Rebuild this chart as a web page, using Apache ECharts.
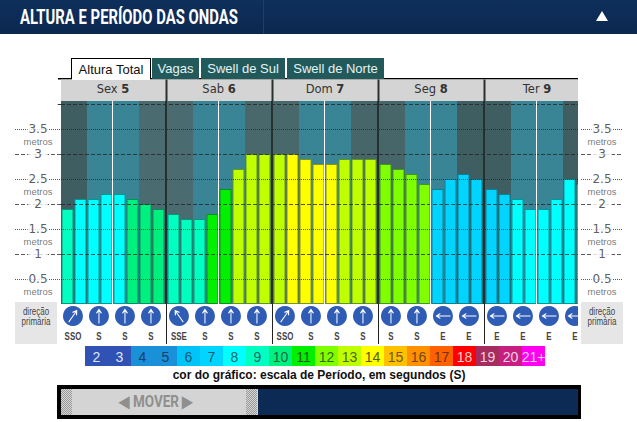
<!DOCTYPE html>
<html><head><meta charset="utf-8">
<style>html,body{margin:0;padding:0;background:#fff}#c{width:637px;height:422px}</style>
<script src="https://cdn.jsdelivr.net/npm/echarts@6/dist/echarts.min.js"></script>
</head><body><div id="c"></div>
<script>
const title = 'ALTURA E PERÍODO DAS ONDAS';
const tabs = ['Altura Total', 'Vagas', 'Swell de Sul', 'Swell de Norte'];
const dayNames = ['Sex', 'Sab', 'Dom', 'Seg', 'Ter'];
const dayNums = ['5', '6', '7', '8', '9'];
const heights = [
  1.9, 2.1, 2.1, 2.2, 2.2, 2.1, 2.0, 1.9,
  1.8, 1.7, 1.7, 1.8, 2.3, 2.7, 3.0, 3.0,
  3.0, 3.0, 2.9, 2.8, 2.8, 2.9, 2.9, 2.9,
  2.8, 2.7, 2.6, 2.4, 2.3, 2.5, 2.6, 2.5,
  2.3, 2.2, 2.1, 1.9, 1.9, 2.1, 2.5, 2.4
];
const periods = [
  9, 8, 8, 8, 8, 10, 10, 10,
  9, 9, 9, 11, 11, 13, 13, 13,
  13, 14, 14, 14, 14, 13, 13, 13,
  12, 12, 12, 12, 7, 7, 7, 7,
  7, 7, 8, 8, 8, 8, 8, 8
];
const directions = [
  'SSO', 'S', 'S', 'S',
  'SSE', 'S', 'S', 'S',
  'SSO', 'S', 'S', 'S',
  'S', 'S', 'E', 'E',
  'E', 'E', 'E', 'E'
];
const directionAngles = { SSO: -35, SSE: 35, S: 0, E: 90 };
const wholeTicks = [1, 2, 3];
const halfTicks = [0.5, 1.5, 2.5, 3.5];
const scaleLabels = ['2','3','4','5','6','7','8','9','10','11','12','13','14','15','16','17','18','19','20','21+'];
const scaleColors = ['#2f52b4','#2f52b4','#1a90d8','#1a90d8','#00c4f8','#00d4ff','#00ffff','#00ffc0','#00f080','#00f000','#80ff00','#c0ff00','#ffff00','#ffc000','#ff9000','#ff6000','#ff0000','#a52c5e','#c61f80','#ff00f0'];
const scaleText = ['#dfe6f5','#dfe6f5','#17406a','#17406a','#0f5a70','#0f5a70','#136a6a','#136a6a','#146a40','#145a14','#3a6a10','#4f6a10','#5a5a10','#70581a','#70481a','#703214','#ffd0d0','#f0d0dc','#f5d0e4','#ffd0ff'];
const caption = 'cor do gráfico: escala de Período, em segundos (S)';
const sideText = 'direção\nprimária';

const DAY = 106 / 13, MAXY = 4.06, MAXX = 517 / 13;
const TOP = 101, PH = 203;
const barPts = heights.map((h, i) => {
  const d = Math.floor(i / 8), s = i % 8;
  const c = scaleColors[scaleLabels.indexOf(String(periods[i]))];
  return { value: [d * DAY + s + 0.5, h], itemStyle: { color: c, borderColor: echarts.color.lerp(0.55, [c, '#123c40']) } };
});
const dayIdx = [0, 1, 2, 3, 4];
const nightColor = ['#3f5e62', '#4a6b70', '#48686c', '#46666a', '#3f5e62'];
const bands = [];
dayIdx.forEach(d => {
  bands.push([{ xAxis: d * DAY, itemStyle: { color: nightColor[d] } }, { xAxis: d * DAY + 2 }]);
  bands.push([{ xAxis: d * DAY + 2, itemStyle: { color: '#3a8595' } }, { xAxis: d * DAY + 6 }]);
  bands.push([{ xAxis: d * DAY + 6, itemStyle: { color: nightColor[Math.min(d + 1, 4)] } }, { xAxis: d * DAY + 8 + 2 / 13 }]);
});
const marks = (vals, type) => ({ silent: true, symbol: 'none', label: { show: false },
  lineStyle: { color: '#222', width: 1, type, opacity: 0.75 }, data: vals.map(v => ({ yAxis: v })) });
const sideLabels = (xi, yi) => [wholeTicks, halfTicks].map((list, k) => ({
  type: 'scatter', xAxisIndex: xi, yAxisIndex: yi, symbolSize: 0, silent: true, z: 6,
  data: list.map(v => [0.5, v]),
  markLine: marks(list, k ? 'dotted' : 'dashed'),
  label: { show: true, position: 'inside', formatter: p => String(p.value[1]),
    fontFamily: 'DejaVu Sans', fontSize: 12, color: '#333', backgroundColor: '#fff', padding: k ? [0, 1] : [0, 6] }
}));
const metros = (xi, yi) => ({
  type: 'scatter', xAxisIndex: xi, yAxisIndex: yi, symbolSize: 0, silent: true, z: 6,
  data: halfTicks.map(v => [0.5, v]),
  label: { show: true, position: 'inside', offset: [0, 12], formatter: 'metros',
    fontFamily: 'Liberation Sans', fontSize: 9.5, color: '#555' }
});

const iconPts = directions.map((l, i) => {
  const d = Math.floor(i / 4), s = (i % 4) * 2;
  return { x: d * DAY + s + 0.92, l };
});
const sepLines = [1, 2, 3, 4].map(d => ({ xAxis: d * DAY - 1 / 13 }));

const g = [];
const rect = (x, y, w, h, fill, z) => ({ type: 'rect', shape: { x, y, width: w, height: h }, style: { fill }, z: z || 0, silent: true });
const text = (x, y, t, font, fill, align, z) => ({ type: 'text', x, y, silent: true, z: z || 20,
  style: { text: t, font, fill, align: align || 'center', verticalAlign: 'middle' } });
const meter = document.createElement('canvas').getContext('2d');
const fitted = (x, y, t, font, fill, width, align, z) => {
  meter.font = font;
  return Object.assign(text(x, y, t, font, fill, align, z), { scaleX: width / meter.measureText(t).width });
};

// page header
g.push(rect(0, 0, 637, 34, { type: 'linear', x: 0, y: 0, x2: 0, y2: 1, colorStops: [{ offset: 0, color: '#0f2f5c' }, { offset: 1, color: '#0a2850' }] }));
g.push(rect(263, 0, 1, 34, '#1f3f6a', 1));
g.push(fitted(20, 17, title, 'bold 20px Roboto', '#fff', 218, 'left'));
g.push({ type: 'polygon', shape: { points: [[602, 11], [608, 21], [596, 21]] }, style: { fill: '#fff' }, z: 2, silent: true });

// tabs
g.push(rect(58, 78, 520, 1.5, '#000', 1));
g.push(rect(71, 58, 80, 21, '#000', 2));
g.push(rect(72, 59, 78, 21, '#fff', 3));
const tabX = [[152, 47], [201, 84], [287, 97]];
tabX.forEach((t, i) => {
  g.push(rect(t[0], 58, t[1], 21, '#225a5c', 3));
  g.push(text(t[0] + t[1] / 2, 68, tabs[i + 1], '13px "Liberation Sans"', '#e6f2f2'));
});
g.push(text(111, 69, tabs[0], '13px "Liberation Sans"', '#111'));

// day header
g.push(rect(61, 79.5, 517, 21.5, '#d4d4d4', 1));
dayIdx.forEach(d => {
  const cx = 113 + d * 106;
  g.push({ type: 'text', x: cx, y: 89, silent: true, z: 20, style: {
    text: '{a|' + dayNames[d] + ' }{b|' + dayNums[d] + '}', align: 'center', verticalAlign: 'middle',
    rich: { a: { font: '11.5px "DejaVu Sans"', fill: '#333' }, b: { font: 'bold 11.5px "DejaVu Sans"', fill: '#333' } } } });
  if (d) g.push(rect(61 + d * 106 - 1.5, 79.5, 2, 21.5, '#2a3030', 2));
});

// white margin right of the plot: the last bar and icon are cut at the plot edge
g.push(rect(578, 101, 45, 203, '#fff', 4));
g.push(rect(578, 304, 3, 44, '#fff', 30));

// direction names under the icons
iconPts.forEach(p => {
  meter.font = 'bold 11px "Liberation Sans"';
  g.push(Object.assign(text(61 + p.x * 13, 336, p.l, meter.font, '#444', 'center', 25), { scaleX: 0.72 }));
});

// primary direction boxes
[[15, 36], [581, 602]].forEach(b => {
  g.push(rect(b[0], 302, 42, 42, '#e6e6e6', 31));
  g.push({ type: 'text', x: b[1], y: 317, scaleX: 0.76, silent: true, z: 32, style: { text: sideText, font: '10.5px "Liberation Sans"', fill: '#444', align: 'center', verticalAlign: 'middle', lineHeight: 10 } });
});

// period colour scale
scaleLabels.forEach((l, i) => {
  g.push(rect(85 + i * 23, 346, 23, 20, scaleColors[i], 1));
  g.push(text(96.5 + i * 23, 356.5, l, '14px "Liberation Sans"', scaleText[i]));
});
g.push(text(319, 375, caption, 'bold 12px "Liberation Sans"', '#111'));

// slider
g.push(rect(57, 385, 524, 34, '#000', 1));
g.push(rect(61, 389, 517, 26, '#0c2b54', 2));
g.push(rect(61, 389, 197, 26, '#d4d4d4', 3));
[61, 246].forEach(x0 => {
  for (let x = 0; x < 11; x++) for (let y = 0; y < 26; y++) if ((x + y) % 2 === 0)
    g.push(rect(x0 + x, 389 + y, 1, 1, '#9a9a9a', 4));
});
g.push(fitted(156, 402, '◀ MOVER ▶', 'bold 16px Roboto', '#8f8f8f', 73));

const grids = [
  { left: 61, top: TOP, width: 517, height: PH },
  { left: 15, top: TOP, width: 46, height: PH },
  { left: 581, top: TOP, width: 42, height: PH },
  { left: 61, top: 304, width: 517, height: 44 }
];
const hiddenX = (i, max) => ({ type: 'value', gridIndex: i, min: 0, max, show: false });
const hiddenY = (i, max) => ({ type: 'value', gridIndex: i, min: 0, max, interval: 0.5, show: false });

const option = {
  animation: false,
  grid: grids,
  graphic: { elements: g },
  xAxis: [hiddenX(0, MAXX), hiddenX(1, 1), hiddenX(2, 1), hiddenX(3, MAXX)],
  yAxis: [hiddenY(0, MAXY), hiddenY(1, MAXY), hiddenY(2, MAXY), hiddenY(3, 1)],
  series: [
    { type: 'bar', xAxisIndex: 0, yAxisIndex: 0, barWidth: 12, data: barPts, clip: true, silent: true,
      itemStyle: { borderWidth: 1 }, markArea: { silent: true, data: bands, z: 1 } },
    { type: 'line', xAxisIndex: 0, yAxisIndex: 0, data: [], silent: true, z: 5, markLine: marks(wholeTicks.concat([4]), 'dashed') },
    { type: 'line', xAxisIndex: 0, yAxisIndex: 0, data: [], silent: true, z: 5, markLine: marks(halfTicks, 'dotted') },
    { type: 'line', xAxisIndex: 0, yAxisIndex: 0, data: [], silent: true, z: 6, markLine: {
        silent: true, symbol: 'none', label: { show: false }, lineStyle: { color: '#fff', type: 'solid', width: 1 },
        data: dayIdx.map(d => ({ xAxis: d * DAY + 4 - 1 / 13 })) } },
    { type: 'line', xAxisIndex: 0, yAxisIndex: 0, data: [], silent: true, z: 7, markLine: {
        silent: true, symbol: 'none', label: { show: false }, lineStyle: { color: '#263030', type: 'solid', width: 2 }, data: sepLines } },
    ...sideLabels(1, 1), metros(1, 1),
    ...sideLabels(2, 2), metros(2, 2),
    { type: 'line', xAxisIndex: 1, yAxisIndex: 1, data: [], silent: true, markLine: {
        silent: true, symbol: 'none', label: { show: false }, lineStyle: { color: '#333', type: 'solid', width: 1 },
        data: [[{ coord: [0.93, 4] }, { coord: [1, 4] }]] } },
    { type: 'scatter', xAxisIndex: 3, yAxisIndex: 3, silent: true, symbol: 'circle', symbolSize: 20, z: 2,
      itemStyle: { color: '#2f5cb4', opacity: 1 }, clip: false,
      data: iconPts.map(p => ({ value: [p.x, 0.727], name: p.l })) },
    { type: 'scatter', xAxisIndex: 3, yAxisIndex: 3, silent: true, z: 3, clip: false,
      symbol: 'path://M4 0 L8 4 L7 5 L4.7 2.7 V14 H3.3 V2.7 L1 5 L0 4 Z', symbolSize: [10, 15], symbolKeepAspect: true,
      itemStyle: { color: '#fff', opacity: 1 },
      data: iconPts.map(p => ({ value: [p.x, 0.727], symbolRotate: directionAngles[p.l] })) },
    { type: 'line', xAxisIndex: 3, yAxisIndex: 3, data: [], silent: true, z: 4, markLine: {
        silent: true, symbol: 'none', label: { show: false }, lineStyle: { color: '#222', type: 'solid', width: 1 },
        data: [1, 2, 3, 4].map(d => [{ coord: [d * DAY - 1 / 13, 1] }, { coord: [d * DAY - 1 / 13, 0.09] }]) } }
  ]
};
const chart = echarts.init(document.getElementById('c'), null, { renderer: 'svg', width: 637, height: 422 });
chart.setOption(option);
</script></body></html>
